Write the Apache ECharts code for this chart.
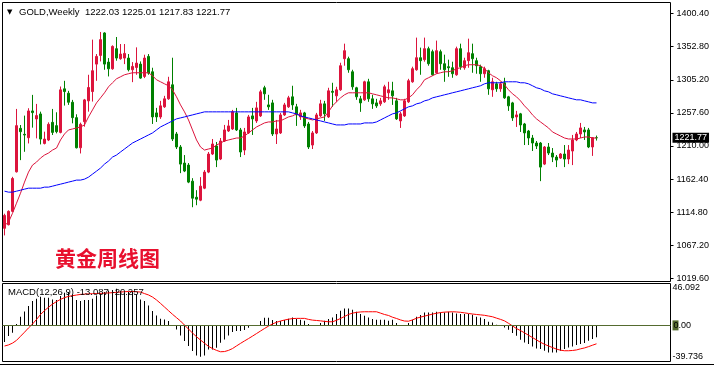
<!DOCTYPE html>
<html><head><meta charset="utf-8">
<script src="https://cdn.jsdelivr.net/npm/echarts@6/dist/echarts.min.js"></script>
<style>html,body{margin:0;padding:0;background:#fff}#c{width:714px;height:366px}</style>
</head><body><div id="c"></div>
<script>
// ---- data (weekly gold) ----
const open = [
1091.7,1096.9,1116.1,1172.9,1235.4,1226.8,1221.9,1260.4,1248.9,1256.1,
1213.7,1218.6,1244.0,1239.3,1229.6,1292.2,1285.9,1272.9,1250.8,1207.5,
1245.0,1274.9,1288.3,1327.7,1340.2,1372.5,1330.6,1321.0,1349.9,1335.5,
1336.4,1336.4,1319.6,1322.9,1327.7,1310.0,1338.8,1316.7,1257.6,1251.8,
1266.3,1277.8,1298.0,1227.3,1208.6,1185.5,1182.6,1159.5,1136.4,1132.1,
1149.4,1172.5,1198.5,1210.0,1191.3,1217.2,1231.6,1234.5,1257.6,1233.1,
1204.2,1228.8,1253.3,1246.1,1253.3,1293.7,1269.1,1272.0,1227.3,1228.8,
1254.7,1266.3,1280.7,1266.3,1251.8,1257.6,1241.7,1211.4,1228.8,1253.3,
1270.6,1251.8,1288.6,1282.1,1290.8,1335.5,1335.5,1316.7,1293.7,1277.8,
1276.4,1302.3,1277.8,1272.0,1270.6,1273.5,1286.5,1289.3,1274.9,1246.1,
1253.3,1273.5,1302.3,1319.6,1336.9,1334.1,1349.9,1345.6,1315.3,1345.6,
1328.3,1324.0,1322.5,1312.4,1349.9,1322.5,1332.6,1342.7,1332.6,1324.0,
1313.9,1318.2,1290.8,1299.4,1292.2,1300.9,1280.7,1272.0,1251.8,1256.2,
1241.7,1231.6,1221.5,1214.3,1214.3,1184.0,1208.6,1199.9,1194.1,1192.7,
1198.5,1191.3,1202.8,1218.7,1227.3,1233.1,1233.1,1208.6,1222.03];
const high = [
1112.7,1117.5,1165.7,1263.3,1240.2,1253.7,1264.3,1283.5,1270.5,1259.4,
1230.6,1244.0,1263.3,1258.5,1295.5,1303.7,1289.3,1276.3,1255.6,1243.6,
1277.7,1312.4,1362.9,1342.2,1373.9,1373.5,1336.4,1354.7,1366.7,1356.6,
1356.6,1342.2,1330.6,1351.8,1331.6,1341.2,1342.2,1322.5,1264.8,1274.9,
1282.1,1309.5,1336.9,1230.2,1211.4,1197.0,1185.5,1163.8,1146.5,1165.3,
1175.4,1201.4,1220.1,1215.8,1221.5,1240.3,1247.5,1261.9,1264.8,1236.0,
1236.0,1254.7,1264.8,1273.5,1290.8,1296.6,1283.6,1276.4,1247.5,1257.6,
1272.0,1282.1,1296.6,1270.6,1262.0,1259.1,1244.6,1231.6,1257.6,1276.4,
1274.9,1293.7,1300.9,1295.1,1329.7,1357.1,1338.4,1319.6,1295.1,1282.1,
1303.8,1306.6,1283.6,1277.8,1279.2,1298.0,1302.3,1302.3,1279.2,1259.1,
1277.8,1306.6,1324.0,1365.8,1351.4,1365.8,1352.8,1348.5,1361.5,1348.5,
1341.3,1334.1,1331.2,1352.8,1357.1,1336.9,1364.3,1357.1,1336.9,1326.9,
1324.0,1319.6,1308.1,1302.3,1302.3,1308.1,1282.1,1273.5,1260.5,1257.6,
1243.2,1233.1,1225.9,1217.2,1215.8,1210.0,1214.3,1207.1,1197.0,1199.9,
1211.4,1211.4,1225.9,1230.2,1243.2,1237.4,1236.0,1222.5,1225.01];
const low = [
1081.5,1095.9,1115.1,1171.9,1189.7,1201.7,1213.7,1236.4,1221.0,1212.3,
1212.3,1217.1,1225.8,1228.2,1228.2,1268.1,1269.1,1242.6,1206.5,1199.3,
1237.8,1259.4,1273.9,1303.7,1331.6,1319.6,1310.0,1319.6,1332.6,1334.0,
1327.7,1317.2,1301.8,1312.4,1306.6,1307.6,1312.4,1241.7,1244.6,1249.0,
1264.8,1276.4,1217.2,1205.7,1171.0,1172.5,1156.6,1122.0,1124.9,1130.7,
1148.0,1171.0,1197.0,1179.7,1189.8,1215.8,1230.2,1233.1,1231.6,1194.1,
1197.0,1227.3,1225.9,1243.2,1251.8,1276.4,1261.9,1224.4,1212.9,1227.3,
1253.3,1264.8,1261.9,1238.9,1247.5,1236.0,1205.7,1205.7,1227.3,1251.8,
1246.1,1250.4,1266.3,1273.5,1289.3,1325.4,1315.3,1290.8,1276.4,1259.1,
1274.9,1273.5,1263.4,1264.8,1267.7,1272.0,1276.4,1269.1,1247.5,1236.0,
1251.8,1272.0,1300.9,1318.2,1312.4,1331.2,1325.4,1311.0,1313.9,1319.6,
1302.3,1309.5,1308.1,1311.0,1319.6,1319.6,1322.5,1315.3,1313.9,1302.3,
1308.1,1283.6,1280.7,1287.9,1287.9,1277.8,1260.5,1246.1,1237.4,1230.2,
1211.4,1211.4,1202.8,1205.7,1159.5,1182.6,1197.0,1186.9,1179.7,1191.3,
1179.7,1184.0,1182.6,1217.0,1221.5,1218.7,1207.0,1195.8,1217.83];
const close = [
1110.3,1116.1,1163.3,1239.3,1230.6,1225.8,1260.4,1258.0,1253.7,1220.0,
1220.0,1241.2,1229.6,1230.6,1290.7,1288.3,1272.9,1250.8,1207.5,1241.2,
1276.3,1294.1,1318.2,1338.8,1362.9,1327.7,1321.0,1353.2,1336.4,1342.2,
1343.1,1319.6,1324.4,1329.2,1307.6,1336.4,1314.8,1251.8,1251.8,1267.7,
1277.8,1302.3,1220.1,1208.6,1184.0,1174.0,1158.1,1135.0,1133.6,1152.3,
1172.5,1198.5,1212.9,1189.8,1217.2,1233.1,1238.9,1259.1,1233.1,1201.4,
1230.2,1251.8,1249.0,1264.8,1287.9,1285.0,1266.3,1227.3,1234.5,1254.7,
1269.1,1279.2,1269.1,1254.7,1257.6,1238.9,1208.6,1228.8,1254.7,1270.6,
1256.2,1289.3,1287.2,1290.8,1325.4,1347.0,1319.6,1295.1,1280.7,1272.0,
1302.3,1277.8,1270.6,1267.7,1274.9,1295.1,1290.8,1282.1,1249.0,1256.2,
1274.9,1303.8,1321.1,1336.9,1332.6,1349.9,1328.3,1312.4,1347.0,1328.3,
1319.6,1322.5,1313.9,1349.9,1324.0,1332.6,1344.1,1335.5,1325.4,1313.9,
1321.1,1292.2,1302.3,1292.2,1299.4,1279.2,1267.7,1250.4,1254.7,1240.3,
1228.8,1221.5,1214.3,1210.0,1179.7,1208.6,1199.9,1194.1,1189.8,1198.5,
1191.3,1204.2,1218.7,1227.3,1236.0,1230.2,1208.6,1222.0,1221.77];
const maFast = [
1096.1,1100.4,1113.4,1127.8,1142.2,1158.1,1172.5,1182.6,1186.9,1192.7,
1197.0,1199.9,1204.2,1207.1,1218.7,1227.3,1233.1,1234.5,1236.0,1237.4,
1240.3,1251.8,1261.9,1272.0,1279.2,1286.5,1295.1,1300.9,1306.6,1309.5,
1312.4,1313.9,1315.3,1315.3,1315.3,1315.3,1315.3,1311.0,1305.2,1302.3,
1299.4,1296.6,1290.8,1280.7,1269.1,1259.1,1247.5,1233.1,1218.7,1208.6,
1204.2,1205.7,1207.1,1211.4,1214.3,1217.2,1218.7,1220.1,1221.5,1221.5,
1224.4,1228.8,1233.1,1237.4,1240.3,1243.2,1244.6,1244.6,1246.1,1246.1,
1249.0,1251.8,1253.3,1256.2,1253.3,1250.4,1249.0,1247.5,1249.0,1250.4,
1251.8,1259.1,1267.7,1273.5,1279.2,1283.6,1286.5,1286.5,1286.5,1286.5,
1286.5,1286.5,1285.0,1283.6,1282.1,1280.7,1279.2,1279.2,1277.8,1276.4,
1276.4,1279.2,1283.6,1290.8,1296.6,1305.2,1308.1,1311.0,1313.9,1315.3,
1316.7,1316.7,1318.2,1321.1,1322.5,1325.4,1326.8,1326.8,1326.8,1325.4,
1321.1,1315.3,1311.0,1308.1,1303.8,1298.0,1290.8,1285.0,1280.7,1274.9,
1267.7,1261.9,1254.7,1249.0,1244.6,1240.3,1236.0,1230.2,1227.3,1224.4,
1221.5,1220.1,1220.1,1220.1,1221.5,1223.0,1223.0,1221.5,1221.5];
const maSlow = [
1145.1,1143.7,1143.7,1145.1,1146.5,1148.0,1149.4,1149.4,1149.4,1149.4,
1150.9,1150.9,1152.3,1153.8,1155.2,1156.6,1158.1,1159.5,1161.0,1161.0,
1162.4,1165.3,1169.6,1173.9,1178.3,1184.0,1188.4,1194.1,1197.0,1201.4,
1205.7,1210.0,1214.3,1217.2,1220.1,1223.0,1225.9,1228.8,1233.1,1237.4,
1240.3,1243.2,1246.1,1249.0,1250.4,1251.8,1253.3,1254.7,1256.2,1257.6,
1259.1,1259.1,1259.1,1259.1,1259.1,1259.1,1259.1,1259.1,1259.1,1259.1,
1259.1,1259.1,1259.1,1259.1,1259.1,1259.1,1259.1,1259.1,1259.1,1259.1,
1259.1,1259.1,1257.6,1256.2,1253.3,1251.8,1250.4,1249.0,1247.5,1246.1,
1244.6,1243.2,1241.7,1240.3,1240.3,1240.3,1241.7,1241.7,1241.7,1241.7,
1243.2,1243.2,1243.2,1244.6,1247.5,1250.4,1253.3,1256.2,1257.6,1260.5,
1263.4,1266.3,1267.7,1270.6,1272.0,1274.9,1276.4,1279.2,1280.7,1282.1,
1283.6,1285.0,1286.5,1287.9,1289.3,1290.8,1292.2,1293.7,1295.1,1296.6,
1299.4,1300.9,1300.9,1300.9,1300.9,1302.3,1302.3,1302.3,1302.3,1300.9,
1300.9,1299.4,1296.6,1293.7,1292.2,1289.3,1287.9,1285.0,1283.6,1282.1,
1280.7,1279.2,1277.8,1276.4,1276.4,1274.9,1273.5,1272.0,1272.0];
const macdHist = [
-18.3,-11.7,-8.1,1.5,9.5,15.4,21.3,26.8,29.3,31.5,
30.4,30.4,28.6,27.9,32.3,35.9,36.7,34.1,27.9,26.8,
27.9,27.9,29.3,33.0,35.2,36.7,38.5,38.9,40.3,37.8,
35.9,36.7,37.8,34.1,28.6,26.8,22.0,15.8,11.0,7.3,
6.6,4.8,0.3,-4.4,-11.0,-17.2,-22.7,-28.2,-33.0,-34.5,
-33.0,-26.4,-26.4,-24.6,-19.1,-15.4,-11.0,-7.3,-6.2,-6.2,
-5.1,-2.6,-0.3,0.5,4.8,8.4,8.4,5.9,4.8,4.8,
5.9,7.3,8.8,7.0,6.2,5.1,1.5,0.3,-0.3,2.6,
5.1,7.0,8.8,12.5,16.1,18.7,18.7,17.2,15.0,12.5,
10.6,8.8,7.0,6.2,6.2,6.2,5.1,6.2,2.6,0.3,
0.4,2.6,6.2,9.5,11.4,14.3,14.3,14.3,15.0,14.3,
14.3,15.0,14.3,13.2,12.5,12.5,12.5,11.7,9.5,8.8,
7.0,4.0,3.3,0.7,-0.4,-2.2,-4.8,-8.4,-11.4,-15.8,
-18.7,-20.5,-23.1,-25.3,-26.0,-27.9,-29.7,-29.7,-29.7,-27.9,
-26.0,-24.2,-23.1,-21.6,-20.5,-19.4,-16.8,-15.0,-13.087];
const macdSignal = [
-22.7,-21.5,-19.5,-16.5,-12.0,-7.5,-2.8,1.5,6.5,12.0,
16.2,20.0,23.4,26.2,28.6,30.6,31.9,32.7,33.4,34.1,
34.4,34.7,34.9,35.1,35.2,35.5,35.7,36.0,36.4,36.7,
37.0,37.3,37.3,37.0,36.7,35.0,33.5,31.2,28.0,24.2,
20.2,16.2,12.2,8.5,4.8,0.3,-4.0,-8.4,-12.5,-16.1,
-19.6,-23.1,-25.5,-27.5,-29.0,-28.8,-27.5,-25.5,-22.6,-19.8,
-17.1,-14.5,-11.8,-9.0,-6.2,-3.4,-0.8,1.6,3.4,4.8,
5.9,6.8,7.5,7.7,7.7,7.7,6.6,5.8,5.4,5.0,
4.4,4.0,4.0,5.6,7.6,9.8,12.0,13.5,14.3,14.8,
15.0,15.0,15.0,15.0,13.5,12.0,10.9,9.0,7.6,6.0,
4.8,4.6,6.0,7.9,9.1,10.2,11.3,12.4,13.4,14.1,
14.6,14.8,15.0,14.8,14.4,13.8,13.1,12.5,12.0,11.6,
11.1,10.3,9.5,8.0,6.6,5.0,2.3,-0.6,-3.5,-5.7,
-8.2,-10.8,-13.4,-16.0,-18.6,-20.8,-22.6,-24.4,-26.1,-27.3,
-27.9,-27.9,-27.6,-27.0,-25.8,-24.8,-23.4,-21.8,-20.257];
const priceTicks = [1019.60,1067.20,1114.80,1162.40,1210.00,1257.60,1305.20,1352.80,1400.40];
const macdTicks = [-39.736, 0, 46.092];
const lastPrice = 1221.77;
const futureSlots = 18; // empty weeks to the right (chart shift)
// ---------------------------------------------------

const weeks = open.map((_, i) => 'W' + (i + 1));
const categories = weeks.concat(Array.from({length: futureSlots}, (_, i) => 'F' + (i + 1)));
const candles = open.map((o, i) => [o, close[i], low[i], high[i]]);
const n = open.length - 1;
const f2 = v => v.toFixed(2);
const FONT = 'Liberation Sans';

const gridL = 2.5, gridW = 668;
const chart = echarts.init(document.getElementById('c'));
chart.setOption({
  animation: false,
  backgroundColor: '#fff',
  grid: [
    {left: gridL, top: 2.5, width: gridW, height: 279, show: true, borderColor: '#000', borderWidth: 1, backgroundColor: '#fff'},
    {left: gridL, top: 283.5, width: gridW, height: 78, show: true, borderColor: '#000', borderWidth: 1, backgroundColor: '#fff'}
  ],
  xAxis: [0, 1].map(g => ({
    type: 'category', gridIndex: g, data: categories, boundaryGap: true,
    axisLine: {show: false}, axisTick: {show: false}, axisLabel: {show: false}, splitLine: {show: false}
  })),
  yAxis: [
    {
      type: 'value', gridIndex: 0, position: 'right', min: 1015.27, max: 1416.27,
      axisLine: {show: false}, splitLine: {show: false},
      axisTick: {show: true, customValues: priceTicks, length: 3, lineStyle: {color: '#000'}},
      axisLabel: {customValues: priceTicks, formatter: v => f2(v), fontFamily: FONT, fontSize: 9, color: '#000', margin: 6, align: 'left'}
    },
    {
      type: 'value', gridIndex: 1, position: 'right', min: -39.736, max: 46.092,
      axisLine: {show: false}, splitLine: {show: false}, axisTick: {show: false},
      axisLabel: {
        customValues: macdTicks, margin: 2, align: 'left', fontFamily: FONT, fontSize: 9, color: '#000',
        verticalAlignMinLabel: 'bottom', verticalAlignMaxLabel: 'top',
        formatter: v => v === 0 ? '{z|0}.00' : v.toFixed(3),
        rich: {z: {backgroundColor: '#556b2f', color: '#000', fontFamily: FONT, fontSize: 9, padding: [1, 0, 0, 1]}}
      }
    }
  ],
  series: [
    {
      type: 'candlestick', xAxisIndex: 0, yAxisIndex: 0, data: candles, barWidth: 2,
      itemStyle: {color: '#dc143c', color0: '#008000', borderColor: '#dc143c', borderColor0: '#008000', borderWidth: 1},
      markLine: {
        silent: true, symbol: 'none', animation: false,
        lineStyle: {color: 'rgba(0,0,0,0)', width: 1},
        label: {show: true, position: 'end', distance: 2, formatter: () => f2(lastPrice),
          backgroundColor: '#000', color: '#fff', fontFamily: FONT, fontSize: 9, padding: [1, 2, 0, 2]},
        data: [{yAxis: lastPrice}]
      }
    },
    {type: 'line', xAxisIndex: 0, yAxisIndex: 0, data: maFast, showSymbol: false, lineStyle: {color: '#dc143c', width: 1}, z: 3},
    {type: 'line', xAxisIndex: 0, yAxisIndex: 0, data: maSlow, showSymbol: false, lineStyle: {color: '#0000ff', width: 1}, z: 3},
    {
      type: 'bar', xAxisIndex: 1, yAxisIndex: 1, data: macdHist, barWidth: 1, itemStyle: {color: '#000'},
      markLine: {silent: true, symbol: 'none', animation: false, label: {show: false},
        lineStyle: {color: '#556b2f', width: 1, type: 'solid'}, data: [{yAxis: 0}]}
    },
    {type: 'line', xAxisIndex: 1, yAxisIndex: 1, data: macdSignal, showSymbol: false, lineStyle: {color: '#ff0000', width: 1}, z: 4}
  ],
  graphic: [
    {type: 'text', x: 7, y: 12, style: {text: '▼', fontFamily: 'DejaVu Sans', fontSize: 7, fill: '#000', verticalAlign: 'middle'}},
    {type: 'text', x: 19, y: 12, style: {text: 'GOLD,Weekly', fontFamily: FONT, fontSize: 9.5, fill: '#000', verticalAlign: 'middle'}},
    {type: 'text', x: 85, y: 12, style: {text: [open[n], high[n], low[n], close[n]].map(f2).join(' '), fontFamily: FONT, fontSize: 9.5, fill: '#000', verticalAlign: 'middle'}},
    {type: 'text', x: 8, y: 292, z: 10, style: {text: 'MACD(12,26,9) ' + macdHist[n].toFixed(3) + ' ' + macdSignal[n].toFixed(3), fontFamily: FONT, fontSize: 9.5, fill: '#000', verticalAlign: 'middle'}},
    {type: 'text', x: 55, y: 258, style: {text: '黄金周线图', fontFamily: 'Noto Sans CJK SC', fontWeight: 'bold', fontSize: 21, fill: '#e8102e', verticalAlign: 'middle'}},
    {type: 'line', shape: {x1: 0, y1: 364.5, x2: 714, y2: 364.5}, style: {stroke: '#000', lineWidth: 1}}
  ]
});
</script>
</body></html>
